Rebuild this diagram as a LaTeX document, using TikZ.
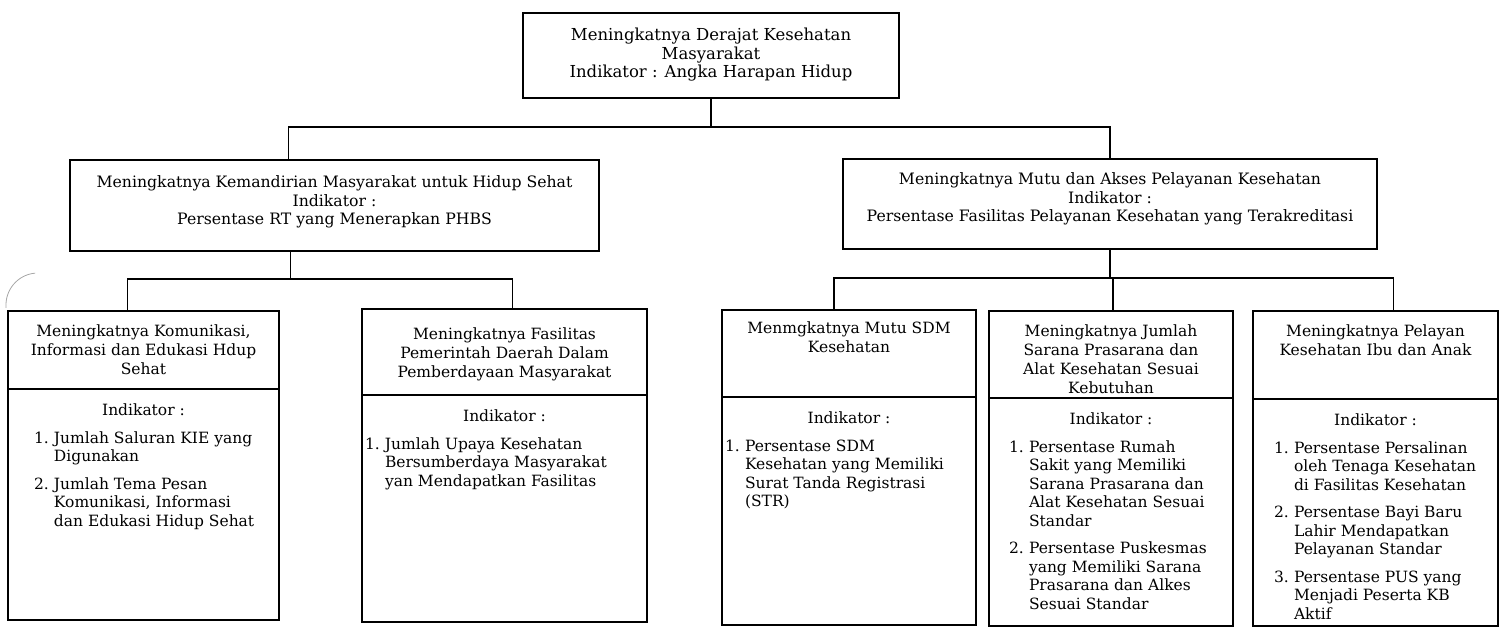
\documentclass[tikz,border=0pt]{standalone}
\usepackage{fontspec}
\setmainfont{DejaVu Serif}
\usetikzlibrary{positioning}
\newcommand{\panel}[4][12pt]{\begin{minipage}[t][#3][t]{#2}\vspace*{#1}#4\end{minipage}}
\newcommand{\itm}[2]{\par\hangindent=20pt\hangafter=1\noindent\hbox to 20pt{#1\hfil}#2\par\vspace{9pt}}
\newcommand{\indk}[1]{\centering\strut Indikator :\par\vspace{9pt}\raggedright\leftskip=#1}
\tikzset{
  goal/.style={draw, line width=1.7pt, inner sep=0pt, outer sep=0pt,
    font=\fontsize{15.7}{18.5}\selectfont},
  subhead/.style={goal, anchor=north west, font=\fontsize{15.5}{19}\selectfont},
  subbody/.style={goal, below=0pt of #1, font=\fontsize{15.5}{18.5}\selectfont},
  link/.style={line width=1.4pt},
}
\begin{document}
\begin{tikzpicture}[x=1pt, y=-1pt]
  \useasboundingbox (0,0) rectangle (1504,627);
  \node[goal, anchor=north west, font=\fontsize{16.5}{18.5}\selectfont] (top) at (523,13)
    {\panel[15pt]{376pt}{85pt}{\centering\strut Meningkatnya Derajat Kesehatan\\Masyarakat\\Indikator : Angka Harapan Hidup}};
  \node[goal, anchor=north west] (kms) at (70,160)
    {\panel[15pt]{529pt}{91pt}{\centering\strut Meningkatnya Kemandirian Masyarakat untuk Hidup Sehat\\Indikator :\\Persentase RT yang Menerapkan PHBS}};
  \node[goal, anchor=north west] (mpk) at (843,159)
    {\panel[13pt]{534pt}{90pt}{\centering\strut Meningkatnya Mutu dan Akses Pelayanan Kesehatan\\Indikator :\\Persentase Fasilitas Pelayanan Kesehatan yang Terakreditasi}};

  \node[subhead] (kie) at (8,311)
    {\panel{271pt}{78pt}{\centering\strut Meningkatnya Komunikasi,\\Informasi dan Edukasi Hdup\\Sehat}};
  \node[subbody=kie] (kiei)
    {\panel[14pt]{271pt}{231pt}{\indk{26pt}
      \itm{1.}{Jumlah Saluran KIE yang\newline Digunakan}
      \itm{2.}{Jumlah Tema Pesan\newline Komunikasi, Informasi\newline dan Edukasi Hidup Sehat}}};
  \node[subhead] (fas) at (362,309)
    {\panel[17pt]{285pt}{86pt}{\centering\strut Meningkatnya Fasilitas\\Pemerintah Daerah Dalam\\Pemberdayaan Masyarakat}};
  \node[subbody=fas] (fasi)
    {\panel[14pt]{285pt}{227pt}{\indk{3pt}
      \itm{1.}{Jumlah Upaya Kesehatan\newline Bersumberdaya Masyarakat\newline yan Mendapatkan Fasilitas}}};
  \node[subhead] (sdm) at (722,310)
    {\panel[10pt]{254pt}{87pt}{\centering\strut Menmgkatnya Mutu SDM\\Kesehatan}};
  \node[subbody=sdm] (sdmi)
    {\panel[14pt]{254pt}{228pt}{\indk{3pt}
      \itm{1.}{Persentase SDM\newline Kesehatan yang Memiliki\newline Surat Tanda Registrasi\newline (STR)}}};
  \node[subhead] (alat) at (989,311)
    {\panel{244pt}{87pt}{\centering\strut Meningkatnya Jumlah\\Sarana Prasarana dan\\Alat Kesehatan Sesuai\\Kebutuhan}};
  \node[subbody=alat] (alati)
    {\panel[14pt]{244pt}{228pt}{\indk{20pt}
      \itm{1.}{Persentase Rumah\newline Sakit yang Memiliki\newline Sarana Prasarana dan\newline Alat Kesehatan Sesuai\newline Standar}
      \itm{2.}{Persentase Puskesmas\newline yang Memiliki Sarana\newline Prasarana dan Alkes\newline Sesuai Standar}}};
  \node[subhead] (kia) at (1253,311)
    {\panel{245pt}{88pt}{\centering\strut Meningkatnya Pelayan\\Kesehatan Ibu dan Anak}};
  \node[subbody=kia] (kiai)
    {\panel[14pt]{245pt}{227pt}{\indk{21pt}
      \itm{1.}{Persentase Persalinan\newline oleh Tenaga Kesehatan\newline di Fasilitas Kesehatan}
      \itm{2.}{Persentase Bayi Baru\newline Lahir Mendapatkan\newline Pelayanan Standar}
      \itm{3.}{Persentase PUS yang\newline Menjadi Peserta KB\newline Aktif}}};

  \draw[link] (top.south) -- ++(0,29) -| ([xshift=-46pt]kms.north);
  \draw[link] (top.south) ++(0,29) -| (mpk.north);
  \draw[link] ([xshift=-44pt]kms.south) -- ++(0,28) -| ([xshift=-16pt]kie.north);
  \draw[link] ([xshift=-44pt]kms.south) ++(0,28) -| ([xshift=8pt]fas.north);
  \draw[link] (mpk.south) -- ++(0,29);
  \foreach \n/\dx in {sdm/-15pt,alat/2pt,kia/18pt}
    \draw[link] (mpk.south) ++(0,29) -| ([xshift=\dx]\n.north);

  \draw[black!35, line width=0.8pt] (6.1,307.8) arc[start angle=175, end angle=265, radius=32];
\end{tikzpicture}
\end{document}
